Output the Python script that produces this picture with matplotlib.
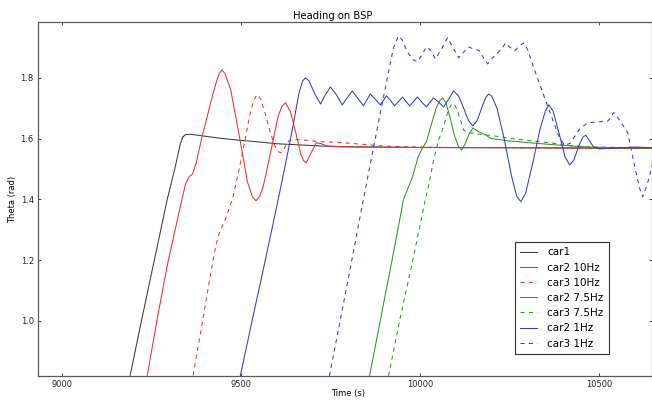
import matplotlib
matplotlib.use("Agg")
import matplotlib.pyplot as plt
import matplotlib.ticker as ticker

# values (time in s, heading in rad)
car1_t = [9190, 9222, 9258, 9294, 9315, 9330, 9337, 9345, 9360, 9380, 9410, 9450,
          9500, 9550, 9600, 9650, 9700, 9750, 9800, 9900, 10000, 10200, 10400, 10650]
car1_y = [0.818, 1.0, 1.2, 1.40, 1.50, 1.58, 1.605, 1.613, 1.614, 1.611, 1.606, 1.600,
          1.594, 1.589, 1.583, 1.580, 1.577, 1.574, 1.573, 1.572, 1.571, 1.570, 1.569, 1.568]

car2_10_t = [9238, 9265, 9297, 9320, 9335, 9345, 9355, 9365, 9375, 9390, 9405, 9420,
             9432, 9440, 9447, 9455, 9471, 9495, 9518, 9532, 9542, 9552, 9562, 9583,
             9603, 9614, 9624, 9638, 9653, 9667, 9675, 9682, 9696, 9710, 9722, 9740,
             9780, 9900, 10100, 10300, 10500, 10650]
car2_10_y = [0.818, 1.0, 1.2, 1.32, 1.40, 1.45, 1.474, 1.484, 1.52, 1.60, 1.67, 1.74,
             1.79, 1.816, 1.826, 1.815, 1.762, 1.61, 1.458, 1.408, 1.395, 1.41, 1.442, 1.556,
             1.67, 1.706, 1.718, 1.689, 1.619, 1.549, 1.527, 1.52, 1.553, 1.586, 1.584, 1.576,
             1.573, 1.571, 1.570, 1.570, 1.569, 1.568]

car3_10_t = [9366, 9390, 9410, 9430, 9440, 9455, 9476, 9495, 9512, 9525, 9535, 9545,
             9555, 9568, 9582, 9595, 9605, 9612, 9620, 9630, 9645, 9680, 9720, 9780,
             9830, 9880, 9950, 10050, 10300, 10650]
car3_10_y = [0.82, 0.98, 1.12, 1.25, 1.29, 1.33, 1.40, 1.50, 1.60, 1.68, 1.725, 1.745,
             1.73, 1.68, 1.62, 1.575, 1.556, 1.553, 1.565, 1.59, 1.597, 1.595, 1.59, 1.587,
             1.582, 1.577, 1.573, 1.571, 1.570, 1.569]

car2_75_t = [9859, 9889, 9922, 9954, 9979, 9995, 10005, 10018, 10030, 10045, 10055, 10063,
             10072, 10085, 10096, 10108, 10116, 10125, 10137, 10148, 10160, 10178, 10200,
             10245, 10300, 10370, 10420, 10470, 10550, 10650]
car2_75_y = [0.818, 1.0, 1.2, 1.40, 1.474, 1.54, 1.565, 1.59, 1.64, 1.70, 1.725, 1.734,
             1.72, 1.665, 1.61, 1.573, 1.562, 1.58, 1.615, 1.635, 1.625, 1.615, 1.600,
             1.593, 1.587, 1.580, 1.576, 1.572, 1.570, 1.569]

car3_75_t = [9912, 9943, 9980, 10015, 10025, 10038, 10052, 10066, 10078, 10088, 10094,
             10102, 10112, 10122, 10135, 10160, 10200, 10245, 10300, 10365, 10420, 10460,
             10550, 10650]
car3_75_y = [0.818, 1.0, 1.20, 1.40, 1.45, 1.53, 1.596, 1.64, 1.69, 1.713, 1.716,
             1.70, 1.665, 1.628, 1.62, 1.615, 1.61, 1.602, 1.594, 1.586, 1.577, 1.573,
             1.571, 1.570]

car2_1_t = [9498, 9531, 9568, 9604, 9625, 9645, 9662, 9672, 9680, 9690, 9705, 9722,
            9736, 9750, 9766, 9783, 9797, 9811, 9826, 9842, 9852, 9861, 9875, 9889,
            9898, 9906, 9918, 9929, 9940, 9951, 9961, 9971, 9982, 9993, 10005, 10018,
            10028, 10038, 10052, 10066, 10080, 10094, 10108, 10122, 10135, 10147, 10160,
            10175, 10185, 10192, 10200, 10215, 10235, 10255, 10270, 10282, 10295, 10315,
            10335, 10350, 10360, 10372, 10390, 10405, 10418, 10430, 10445, 10455, 10463,
            10472, 10485, 10500, 10530, 10560, 10600, 10650]
car2_1_y = [0.818, 1.0, 1.2, 1.40, 1.52, 1.64, 1.75, 1.79, 1.80, 1.79, 1.75, 1.714,
            1.745, 1.77, 1.745, 1.711, 1.735, 1.757, 1.733, 1.708, 1.728, 1.747, 1.73, 1.711,
            1.726, 1.741, 1.725, 1.708, 1.722, 1.737, 1.722, 1.708, 1.722, 1.737, 1.72, 1.704,
            1.72, 1.734, 1.72, 1.704, 1.73, 1.757, 1.74, 1.70, 1.66, 1.642, 1.66,
            1.71, 1.738, 1.747, 1.74, 1.70, 1.60, 1.48, 1.41, 1.392, 1.42, 1.52,
            1.63, 1.69, 1.711, 1.69, 1.61, 1.54, 1.513, 1.53, 1.58, 1.605, 1.611,
            1.595, 1.572, 1.566, 1.568, 1.570, 1.572, 1.570]

car3_1_t = [9747, 9795, 9842, 9885, 9926, 9940, 9950, 9965, 9980, 9993, 10005, 10018,
            10030, 10043, 10060, 10077, 10092, 10108, 10122, 10135, 10150, 10165, 10178,
            10189, 10200, 10215, 10228, 10239, 10252, 10265, 10278, 10289, 10300, 10317,
            10337, 10365, 10390, 10405, 10420, 10445, 10468, 10500, 10525, 10541, 10555,
            10580, 10603, 10615, 10622, 10635, 10650]
car3_1_y = [0.818, 1.11, 1.40, 1.66, 1.90, 1.938, 1.925, 1.885, 1.86, 1.853, 1.875, 1.902,
            1.89, 1.862, 1.895, 1.932, 1.90, 1.866, 1.885, 1.902, 1.895, 1.89, 1.865,
            1.846, 1.862, 1.88, 1.895, 1.915, 1.90, 1.89, 1.905, 1.915, 1.895, 1.836,
            1.77, 1.68, 1.60, 1.578, 1.585, 1.63, 1.652, 1.655, 1.658, 1.686, 1.665,
            1.62, 1.49, 1.43, 1.408, 1.45, 1.52]

x_ticks = [9000, 9500, 10000, 10500]
y_ticks = [1.0, 1.2, 1.4, 1.6, 1.8]

fig = plt.figure(figsize=(6.52, 4.01), dpi=100)
ax = fig.add_axes([38 / 652, 25 / 401, 614 / 652, 354 / 401])

lw = 0.75
dash = (0, (4, 4))
ax.plot(car1_t, car1_y, color='#3a3a3a', lw=lw, label='car1')
ax.plot(car2_10_t, car2_10_y, color='#ec3030', lw=lw, label='car2 10Hz')
ax.plot(car3_10_t, car3_10_y, color='#ec3030', lw=lw, ls=dash, label='car3 10Hz')
ax.plot(car2_75_t, car2_75_y, color='#2e962e', lw=lw, label='car2 7.5Hz')
ax.plot(car3_75_t, car3_75_y, color='#2e962e', lw=lw, ls=dash, label='car3 7.5Hz')
ax.plot(car2_1_t, car2_1_y, color='#3b3bc4', lw=lw, label='car2 1Hz')
ax.plot(car3_1_t, car3_1_y, color='#3b3bc4', lw=lw, ls=dash, label='car3 1Hz')

ax.set_xlim(8933, 10648)
ax.set_ylim(0.818, 1.984)
ax.set_xticks(x_ticks)
ax.set_yticks(y_ticks)
ax.yaxis.set_major_formatter(ticker.FormatStrFormatter('%.1f'))
ax.tick_params(direction='in', length=2.5, width=0.6, pad=3, labelsize=6,
               top=True, right=True, colors='0.15')
for sp in ax.spines.values():
    sp.set_color('0.35')
    sp.set_linewidth(0.9)

ax.set_title('Heading on BSP', fontsize=7.2, x=0.48, pad=2.5)
ax.set_xlabel('Time (s)', fontsize=6)
ax.set_ylabel('Theta (rad)', fontsize=6)
ax.xaxis.set_label_coords(0.505, -0.038)
ax.yaxis.set_label_coords(-0.034, 0.5)

leg = ax.legend(loc='upper left', bbox_to_anchor=(0.768, 0.393), fontsize=7.5,
                fancybox=False, framealpha=1, handlelength=1.6, handletextpad=1.0,
                labelspacing=0.5, borderpad=0.5)
leg.get_frame().set_edgecolor('0.2')
leg.get_frame().set_linewidth(0.8)

fig.savefig('out.png', dpi=100)
